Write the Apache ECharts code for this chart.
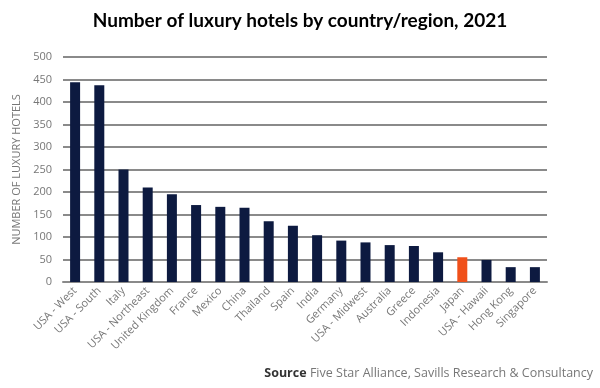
<!DOCTYPE html>
<html><head><meta charset="utf-8">
<script src="https://cdn.jsdelivr.net/npm/echarts@6/dist/echarts.min.js"></script>
<style>html,body{margin:0;padding:0;background:#fff}#c{width:600px;height:388px}</style>
</head><body><div id="c"></div>
<script>
const categories = ["USA - West","USA - South","Italy","USA - Northeast","United Kingdom","France","Mexico","China","Thailand","Spain","India","Germany","USA - Midwest","Australia","Greece","Indonesia","Japan","USA - Hawaii","Hong Kong","Singapore"];
const hotels = [444,437,250,210,195,171,167,165,135,125,104,92,88,82,80,66,55,49,33,33];
const highlight = "Japan";
const yTicks = {min:0,max:500,interval:50};

const chart = echarts.init(document.getElementById('c'));
chart.setOption({
  animation:false,
  title:{text:"Number of luxury hotels by country/region, 2021",left:'center',top:6,
    textStyle:{fontFamily:'Lato',fontWeight:'bold',fontSize:19,color:'#000'}},
  grid:{left:63,right:53,top:57,bottom:106},
  xAxis:{type:'category',data:categories,
    axisLine:{lineStyle:{color:'#8a8a8a',width:2}},axisTick:{show:false},
    axisLabel:{rotate:45,interval:0,color:'#777',fontSize:11,fontFamily:'Open Sans',margin:7}},
  yAxis:{type:'value',min:yTicks.min,max:yTicks.max,interval:yTicks.interval,
    name:"NUMBER OF LUXURY HOTELS",nameLocation:'middle',nameGap:32,
    nameTextStyle:{color:'#777',fontSize:11,fontFamily:'Open Sans'},
    axisLine:{show:false},axisTick:{show:false},
    axisLabel:{color:'#777',fontSize:11,fontFamily:'Open Sans',margin:11},
    splitLine:{lineStyle:{color:'#8a8a8a',width:2}}},
  series:[{type:'bar',barWidth:10,
    data:hotels.map((v,i)=>({value:v,itemStyle:{color:categories[i]===highlight?'#f0501a':'#0d1a40'}}))}],
  graphic:[{type:'text',right:7,top:367,style:{
    rich:{b:{fontWeight:'bold',fill:'#333',fontSize:12.5,fontFamily:'Open Sans'},n:{fill:'#777',fontSize:12.5,fontFamily:'Open Sans'}},
    text:'{b|Source} {n|Five Star Alliance, Savills Research & Consultancy}'}}]
});
</script></body></html>
